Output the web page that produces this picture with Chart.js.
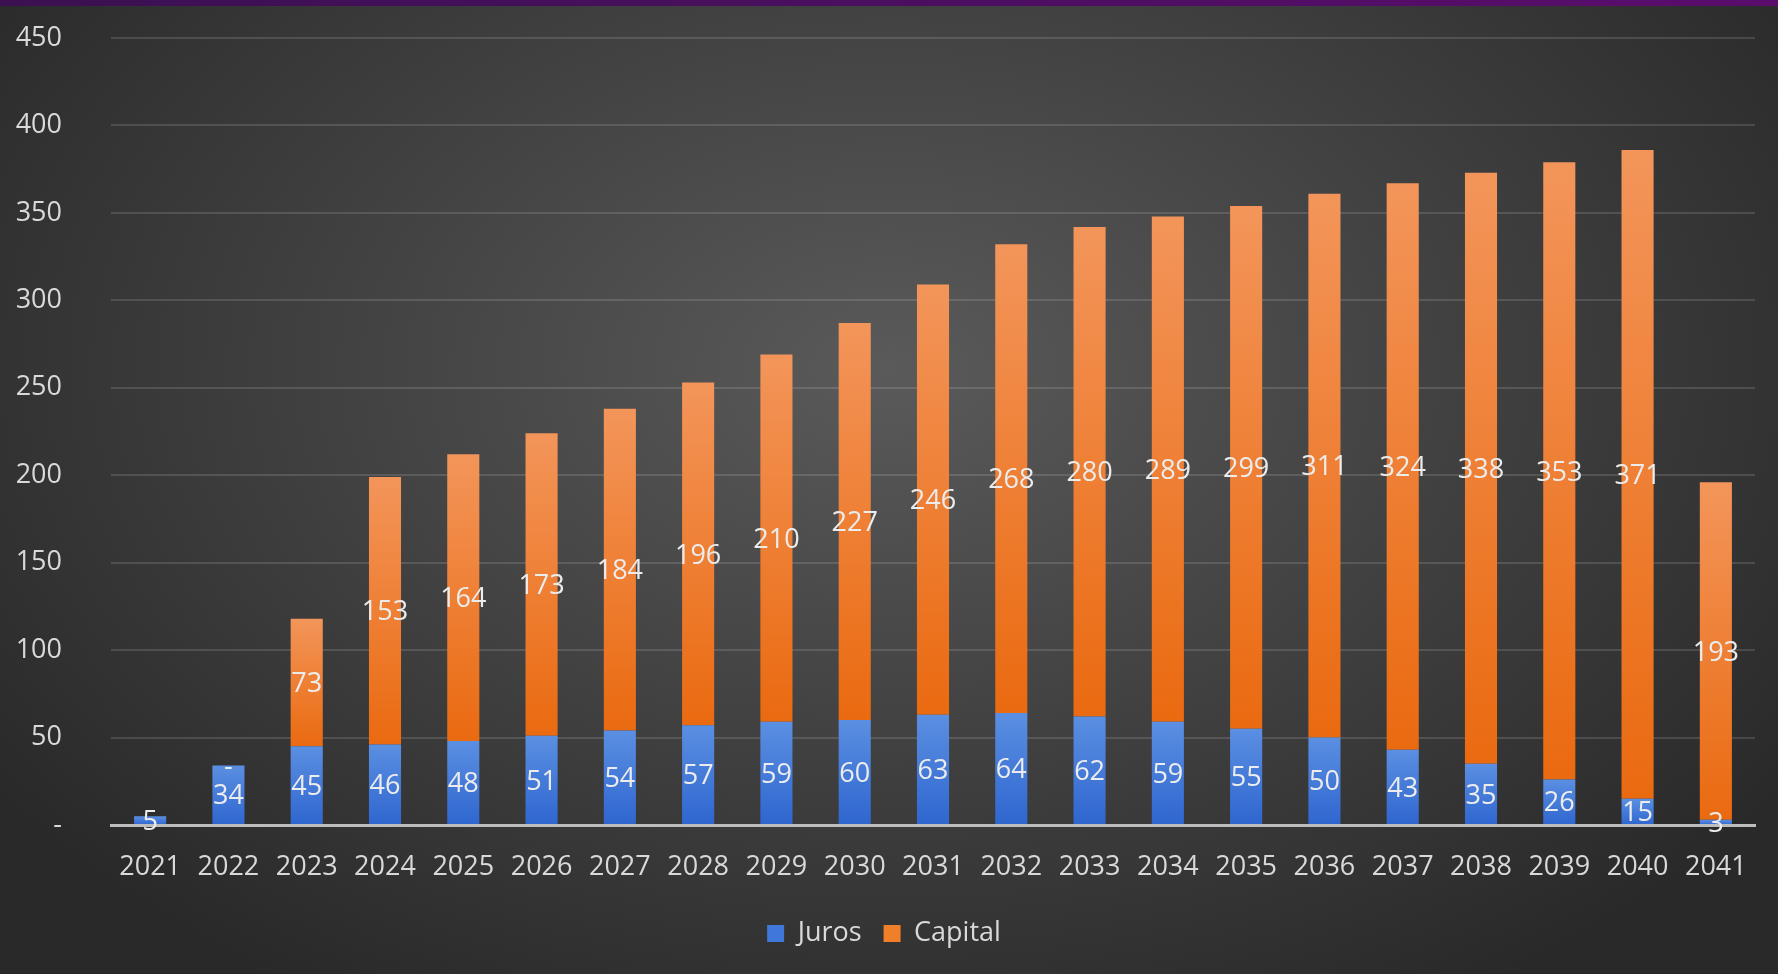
<!DOCTYPE html>
<html>
<head>
<meta charset="utf-8">
<script src="https://cdn.jsdelivr.net/npm/chart.js@4.4.1/dist/chart.umd.min.js"></script>
<style>
    html, body {
        margin: 0;
        padding: 0;
        width: 1778px;
        height: 974px;
        overflow: hidden;
        background: radial-gradient(ellipse 62% 75% at 50% 38%, #5a5a5a 0%, #3f3f3f 55%, #292929 100%);
    }
    #topBar {
        position: absolute;
        left: 0;
        top: 0;
        width: 1778px;
        height: 6px;
        background: linear-gradient(to right, #3b1052, #5a0d6c);
    }
    #wrap {
        position: absolute;
        left: 0;
        top: 0;
        width: 1778px;
        height: 974px;
    }
</style>
</head>
<body>
<div id="topBar"></div>
<div id="wrap"><canvas id="debtChart"></canvas></div>
<script>
const years = ['2021', '2022', '2023', '2024', '2025', '2026', '2027', '2028', '2029', '2030',
    '2031', '2032', '2033', '2034', '2035', '2036', '2037', '2038', '2039', '2040', '2041'];
const juros = [5, 34, 45, 46, 48, 51, 54, 57, 59, 60, 63, 64, 62, 59, 55, 50, 43, 35, 26, 15, 3];
const capital = [null, 0, 73, 153, 164, 173, 184, 196, 210, 227, 246, 268, 280, 289, 299, 311, 324, 338, 353, 371, 193];
const yTicks = [0, 50, 100, 150, 200, 250, 300, 350, 400, 450];

const textColor = '#d9d9d9';
const fontFamily = '"Open Sans", "Noto Sans", sans-serif';

// vertical gradient for one bar segment, lighter at the top
function barGradient(ctx, lightColor, darkColor, lowerValues) {
    const chart = ctx.chart;
    if (ctx.type !== 'data' || !chart.chartArea || !chart.scales.y) {
        return darkColor;
    }
    const v = ctx.raw;
    if (v === null || v === undefined) return darkColor;
    const base = lowerValues ? (lowerValues[ctx.dataIndex] || 0) : 0;
    const yTop = chart.scales.y.getPixelForValue(base + v);
    const yBottom = chart.scales.y.getPixelForValue(base);
    if (!isFinite(yTop) || !isFinite(yBottom) || yTop === yBottom) return darkColor;
    const g = chart.ctx.createLinearGradient(0, yTop, 0, yBottom);
    g.addColorStop(0, lightColor);
    g.addColorStop(1, darkColor);
    return g;
}

const valueLabels = {
    id: 'valueLabels',
    afterDatasetsDraw(chart) {
        const ctx = chart.ctx;
        ctx.save();
        ctx.font = '27px ' + fontFamily;
        ctx.fillStyle = '#ececec';
        ctx.textAlign = 'center';
        ctx.textBaseline = 'middle';
        chart.data.datasets.forEach((ds, i) => {
            const meta = chart.getDatasetMeta(i);
            meta.data.forEach((bar, j) => {
                const v = ds.data[j];
                if (v === null || v === undefined) return;
                const text = v === 0 ? '-' : String(v);
                ctx.fillText(text, bar.x, (bar.y + bar.base) / 2 + 2);
            });
        });
        ctx.restore();
    }
};

const charts = {};

charts.debt = new Chart(
    document.getElementById('debtChart'),
    {
        type: 'bar',
        data: {
            labels: years,
            datasets: [{
                label: 'Juros',
                data: juros,
                backgroundColor: (ctx) => barGradient(ctx, '#5b8fe2', '#2f66cf'),
                borderWidth: 0,
                barPercentage: 0.41,
                categoryPercentage: 1
            }, {
                label: 'Capital',
                data: capital,
                backgroundColor: (ctx) => barGradient(ctx, '#f3955a', '#ea6a10', juros),
                borderWidth: 0,
                barPercentage: 0.41,
                categoryPercentage: 1
            }]
        },
        options: {
            responsive: true,
            maintainAspectRatio: false,
            animation: false,
            layout: {
                padding: { top: 38, right: 23, bottom: 17, left: 13 }
            },
            plugins: {
                legend: {
                    position: 'bottom',
                    labels: {
                        color: textColor,
                        font: { size: 27, family: fontFamily },
                        boxWidth: 17,
                        boxHeight: 17,
                        padding: 22,
                        generateLabels: (chart) => [
                            { text: 'Juros', fillStyle: '#3f78d8', strokeStyle: '#3f78d8', lineWidth: 0, fontColor: textColor, datasetIndex: 0 },
                            { text: 'Capital', fillStyle: '#f07f2a', strokeStyle: '#f07f2a', lineWidth: 0, fontColor: textColor, datasetIndex: 1 }
                        ]
                    },
                    onClick: (e) => e.stopPropagation()
                },
                tooltip: { enabled: false }
            },
            scales: {
                x: {
                    stacked: true,
                    grid: {
                        display: false,
                        drawTicks: false
                    },
                    border: {
                        display: true,
                        color: '#bdbdbd',
                        width: 3
                    },
                    ticks: {
                        color: textColor,
                        font: { size: 27, family: fontFamily },
                        padding: 26,
                        maxRotation: 0,
                        autoSkip: false
                    },
                    afterFit: (scale) => { scale.height = 73; }
                },
                y: {
                    stacked: true,
                    min: 0,
                    max: 450,
                    afterBuildTicks: (scale) => {
                        scale.ticks = yTicks.map((v) => ({ value: v }));
                    },
                    grid: {
                        color: 'rgba(255,255,255,0.13)',
                        lineWidth: 2,
                        drawTicks: false
                    },
                    border: { display: false },
                    ticks: {
                        color: textColor,
                        font: { size: 27, family: fontFamily },
                        padding: 49,
                        callback: (v) => (v === 0 ? '-' : v)
                    },
                    afterFit: (scale) => {
                        scale.width = 98;
                        // tick padding would otherwise push the plot top down
                        scale.paddingTop = 0;
                        scale.paddingBottom = 0;
                    }
                }
            }
        },
        plugins: [valueLabels]
    }
);
</script>
</body>
</html>
